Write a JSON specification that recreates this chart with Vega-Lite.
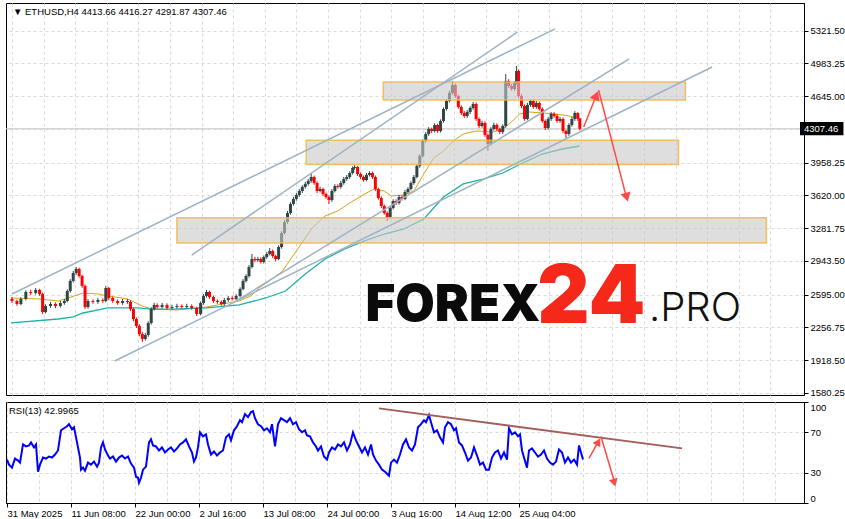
{
"$schema": "https://vega.github.io/schema/vega-lite/v6.json",
"padding": {"left": 2, "top": 2, "right": 0, "bottom": 0},
"background": "white",
"spacing": 3,
"config": {
  "view": {"stroke": "#000", "strokeWidth": 1},
  "axis": {"labelFont": "Liberation Sans", "labelFontSize": 9.5, "labelColor": "#000", "gridColor": "#dadada", "gridDash": [3, 3], "gridWidth": 1, "tickColor": "#000", "domainColor": "#000", "title": null, "labelOverlap": false, "labelBound": false},
  "text": {"font": "Liberation Sans"}
},
"datasets": {
  "one": [{"n": 1}],
  "candles": [
    {"i":3,"o":2550,"h":2572,"l":2508,"c":2529},{"i":8,"o":2529,"h":2545,"l":2480,"c":2498},{"i":12,"o":2498,"h":2568,"l":2485,"c":2550},{"i":17,"o":2550,"h":2640,"l":2535,"c":2622},{"i":22,"o":2622,"h":2645,"l":2590,"c":2612},{"i":27,"o":2612,"h":2663,"l":2595,"c":2643},{"i":31,"o":2643,"h":2655,"l":2580,"c":2601},{"i":34,"o":2601,"h":2615,"l":2395,"c":2415},{"i":37,"o":2415,"h":2495,"l":2400,"c":2477},{"i":42,"o":2477,"h":2520,"l":2460,"c":2498},{"i":47,"o":2498,"h":2515,"l":2455,"c":2477},{"i":52,"o":2477,"h":2530,"l":2460,"c":2508},{"i":56,"o":2508,"h":2550,"l":2490,"c":2529},{"i":59,"o":2529,"h":2650,"l":2515,"c":2632},{"i":62,"o":2632,"h":2755,"l":2615,"c":2736},{"i":65,"o":2736,"h":2840,"l":2720,"c":2818},{"i":68,"o":2818,"h":2880,"l":2800,"c":2860},{"i":71,"o":2860,"h":2875,"l":2770,"c":2787},{"i":74,"o":2787,"h":2800,"l":2665,"c":2684},{"i":77,"o":2684,"h":2700,"l":2446,"c":2467},{"i":80,"o":2467,"h":2550,"l":2450,"c":2529},{"i":85,"o":2529,"h":2545,"l":2500,"c":2519},{"i":90,"o":2519,"h":2560,"l":2500,"c":2539},{"i":95,"o":2539,"h":2555,"l":2510,"c":2529},{"i":98,"o":2529,"h":2684,"l":2515,"c":2663},{"i":101,"o":2663,"h":2675,"l":2540,"c":2560},{"i":105,"o":2560,"h":2575,"l":2510,"c":2529},{"i":110,"o":2529,"h":2545,"l":2490,"c":2508},{"i":115,"o":2508,"h":2550,"l":2490,"c":2529},{"i":120,"o":2529,"h":2550,"l":2500,"c":2519},{"i":123,"o":2519,"h":2535,"l":2425,"c":2446},{"i":126,"o":2446,"h":2460,"l":2320,"c":2343},{"i":129,"o":2343,"h":2360,"l":2250,"c":2271},{"i":132,"o":2271,"h":2290,"l":2165,"c":2188},{"i":135,"o":2188,"h":2210,"l":2106,"c":2137},{"i":138,"o":2137,"h":2200,"l":2120,"c":2178},{"i":141,"o":2178,"h":2320,"l":2160,"c":2302},{"i":144,"o":2302,"h":2465,"l":2285,"c":2446},{"i":147,"o":2446,"h":2510,"l":2430,"c":2488},{"i":150,"o":2488,"h":2505,"l":2450,"c":2467},{"i":155,"o":2467,"h":2510,"l":2450,"c":2488},{"i":160,"o":2488,"h":2505,"l":2440,"c":2457},{"i":165,"o":2457,"h":2490,"l":2440,"c":2467},{"i":170,"o":2467,"h":2500,"l":2450,"c":2477},{"i":175,"o":2477,"h":2495,"l":2450,"c":2467},{"i":180,"o":2467,"h":2500,"l":2450,"c":2477},{"i":185,"o":2477,"h":2495,"l":2440,"c":2457},{"i":190,"o":2457,"h":2470,"l":2374,"c":2395},{"i":194,"o":2395,"h":2525,"l":2380,"c":2508},{"i":197,"o":2508,"h":2600,"l":2490,"c":2581},{"i":200,"o":2581,"h":2643,"l":2565,"c":2622},{"i":203,"o":2622,"h":2635,"l":2550,"c":2570},{"i":207,"o":2570,"h":2585,"l":2510,"c":2529},{"i":211,"o":2529,"h":2545,"l":2500,"c":2519},{"i":215,"o":2519,"h":2535,"l":2480,"c":2498},{"i":218,"o":2498,"h":2560,"l":2480,"c":2539},{"i":222,"o":2539,"h":2580,"l":2520,"c":2560},{"i":226,"o":2560,"h":2580,"l":2535,"c":2550},{"i":230,"o":2550,"h":2600,"l":2535,"c":2581},{"i":234,"o":2581,"h":2670,"l":2565,"c":2653},{"i":237,"o":2653,"h":2755,"l":2640,"c":2736},{"i":240,"o":2736,"h":2805,"l":2720,"c":2787},{"i":243,"o":2787,"h":2900,"l":2770,"c":2880},{"i":246,"o":2880,"h":3015,"l":2865,"c":2963},{"i":249,"o":2963,"h":2985,"l":2930,"c":2950},{"i":252,"o":2950,"h":2985,"l":2935,"c":2963},{"i":255,"o":2963,"h":2980,"l":2915,"c":2932},{"i":258,"o":2932,"h":3000,"l":2915,"c":2984},{"i":261,"o":2984,"h":3035,"l":2965,"c":3015},{"i":264,"o":3015,"h":3076,"l":3000,"c":3046},{"i":267,"o":3046,"h":3060,"l":2975,"c":2994},{"i":270,"o":2994,"h":3005,"l":2940,"c":2963},{"i":273,"o":2963,"h":3105,"l":2950,"c":3087},{"i":276,"o":3087,"h":3250,"l":3070,"c":3231},{"i":279,"o":3231,"h":3365,"l":3215,"c":3345},{"i":282,"o":3345,"h":3460,"l":3325,"c":3438},{"i":285,"o":3438,"h":3550,"l":3420,"c":3531},{"i":288,"o":3531,"h":3605,"l":3515,"c":3583},{"i":291,"o":3583,"h":3645,"l":3565,"c":3624},{"i":294,"o":3624,"h":3685,"l":3605,"c":3665},{"i":297,"o":3665,"h":3725,"l":3645,"c":3707},{"i":300,"o":3707,"h":3760,"l":3690,"c":3738},{"i":303,"o":3738,"h":3790,"l":3720,"c":3769},{"i":306,"o":3769,"h":3841,"l":3750,"c":3810},{"i":309,"o":3810,"h":3825,"l":3730,"c":3748},{"i":312,"o":3748,"h":3765,"l":3645,"c":3665},{"i":315,"o":3665,"h":3710,"l":3650,"c":3686},{"i":318,"o":3686,"h":3700,"l":3615,"c":3634},{"i":321,"o":3634,"h":3650,"l":3585,"c":3603},{"i":324,"o":3603,"h":3620,"l":3531,"c":3572},{"i":327,"o":3572,"h":3685,"l":3555,"c":3665},{"i":330,"o":3665,"h":3735,"l":3650,"c":3717},{"i":333,"o":3717,"h":3735,"l":3690,"c":3707},{"i":336,"o":3707,"h":3770,"l":3690,"c":3748},{"i":339,"o":3748,"h":3810,"l":3730,"c":3789},{"i":342,"o":3789,"h":3830,"l":3770,"c":3810},{"i":345,"o":3810,"h":3870,"l":3790,"c":3851},{"i":348,"o":3851,"h":3920,"l":3835,"c":3903},{"i":350,"o":3903,"h":3934,"l":3885,"c":3913},{"i":353,"o":3913,"h":3925,"l":3820,"c":3841},{"i":356,"o":3841,"h":3855,"l":3790,"c":3810},{"i":359,"o":3810,"h":3825,"l":3760,"c":3779},{"i":362,"o":3779,"h":3850,"l":3765,"c":3831},{"i":365,"o":3831,"h":3870,"l":3815,"c":3851},{"i":368,"o":3851,"h":3865,"l":3790,"c":3810},{"i":371,"o":3810,"h":3825,"l":3665,"c":3686},{"i":374,"o":3686,"h":3700,"l":3575,"c":3593},{"i":377,"o":3593,"h":3610,"l":3490,"c":3510},{"i":380,"o":3510,"h":3525,"l":3420,"c":3438},{"i":383,"o":3438,"h":3455,"l":3355,"c":3397},{"i":386,"o":3397,"h":3510,"l":3380,"c":3490},{"i":389,"o":3490,"h":3580,"l":3475,"c":3562},{"i":392,"o":3562,"h":3580,"l":3520,"c":3541},{"i":395,"o":3541,"h":3625,"l":3525,"c":3603},{"i":398,"o":3603,"h":3620,"l":3565,"c":3583},{"i":401,"o":3583,"h":3675,"l":3570,"c":3655},{"i":404,"o":3655,"h":3705,"l":3640,"c":3686},{"i":407,"o":3686,"h":3765,"l":3670,"c":3748},{"i":410,"o":3748,"h":3830,"l":3730,"c":3810},{"i":413,"o":3810,"h":3945,"l":3795,"c":3924},{"i":416,"o":3924,"h":4045,"l":3905,"c":4027},{"i":419,"o":4027,"h":4200,"l":4010,"c":4182},{"i":422,"o":4182,"h":4275,"l":4165,"c":4254},{"i":425,"o":4254,"h":4325,"l":4235,"c":4306},{"i":428,"o":4306,"h":4320,"l":4265,"c":4285},{"i":431,"o":4285,"h":4365,"l":4270,"c":4347},{"i":434,"o":4347,"h":4360,"l":4265,"c":4285},{"i":437,"o":4285,"h":4405,"l":4270,"c":4388},{"i":440,"o":4388,"h":4530,"l":4370,"c":4512},{"i":443,"o":4512,"h":4615,"l":4495,"c":4595},{"i":446,"o":4595,"h":4700,"l":4580,"c":4678},{"i":449,"o":4678,"h":4802,"l":4660,"c":4760},{"i":452,"o":4760,"h":4775,"l":4625,"c":4647},{"i":455,"o":4647,"h":4660,"l":4515,"c":4533},{"i":458,"o":4533,"h":4550,"l":4450,"c":4471},{"i":461,"o":4471,"h":4490,"l":4420,"c":4440},{"i":464,"o":4440,"h":4500,"l":4420,"c":4481},{"i":467,"o":4481,"h":4540,"l":4460,"c":4523},{"i":470,"o":4523,"h":4585,"l":4505,"c":4564},{"i":473,"o":4564,"h":4580,"l":4390,"c":4409},{"i":476,"o":4409,"h":4425,"l":4315,"c":4337},{"i":479,"o":4337,"h":4390,"l":4320,"c":4368},{"i":482,"o":4368,"h":4385,"l":4225,"c":4244},{"i":485,"o":4244,"h":4260,"l":4078,"c":4151},{"i":488,"o":4151,"h":4325,"l":4135,"c":4306},{"i":491,"o":4306,"h":4370,"l":4290,"c":4347},{"i":494,"o":4347,"h":4365,"l":4285,"c":4306},{"i":497,"o":4306,"h":4320,"l":4255,"c":4275},{"i":500,"o":4275,"h":4355,"l":4255,"c":4337},{"i":503,"o":4337,"h":4874,"l":4320,"c":4802},{"i":506,"o":4802,"h":4820,"l":4730,"c":4750},{"i":509,"o":4750,"h":4770,"l":4700,"c":4719},{"i":512,"o":4719,"h":4800,"l":4700,"c":4781},{"i":514,"o":4781,"h":4957,"l":4765,"c":4905},{"i":516,"o":4905,"h":4920,"l":4625,"c":4647},{"i":519,"o":4647,"h":4665,"l":4520,"c":4543},{"i":522,"o":4543,"h":4560,"l":4390,"c":4409},{"i":525,"o":4409,"h":4575,"l":4395,"c":4554},{"i":528,"o":4554,"h":4615,"l":4535,"c":4595},{"i":531,"o":4595,"h":4610,"l":4515,"c":4533},{"i":534,"o":4533,"h":4595,"l":4515,"c":4574},{"i":537,"o":4574,"h":4590,"l":4495,"c":4512},{"i":540,"o":4512,"h":4530,"l":4370,"c":4388},{"i":543,"o":4388,"h":4405,"l":4295,"c":4316},{"i":546,"o":4316,"h":4430,"l":4300,"c":4409},{"i":549,"o":4409,"h":4480,"l":4390,"c":4461},{"i":552,"o":4461,"h":4480,"l":4420,"c":4440},{"i":555,"o":4440,"h":4460,"l":4370,"c":4388},{"i":558,"o":4388,"h":4430,"l":4370,"c":4409},{"i":561,"o":4409,"h":4425,"l":4265,"c":4285},{"i":564,"o":4285,"h":4300,"l":4213,"c":4254},{"i":567,"o":4254,"h":4365,"l":4235,"c":4347},{"i":570,"o":4347,"h":4430,"l":4330,"c":4409},{"i":573,"o":4409,"h":4490,"l":4390,"c":4471},{"i":576,"o":4471,"h":4480,"l":4390,"c":4413},{"i":578,"o":4413.66,"h":4416.27,"l":4291.87,"c":4307.46}
  ],
  "ma50": [
    {"i":2,"p":2560},{"i":30,"p":2550},{"i":50,"p":2529},{"i":60,"p":2560},{"i":75,"p":2612},{"i":90,"p":2601},{"i":100,"p":2581},{"i":120,"p":2550},{"i":135,"p":2477},{"i":145,"p":2446},{"i":170,"p":2436},{"i":200,"p":2467},{"i":233,"p":2529},{"i":245,"p":2581},{"i":253,"p":2663},{"i":265,"p":2746},{"i":277,"p":2839},{"i":293,"p":3076},{"i":307,"p":3283},{"i":320,"p":3407},{"i":333,"p":3459},{"i":345,"p":3541},{"i":360,"p":3634},{"i":370,"p":3686},{"i":380,"p":3665},{"i":387,"p":3614},{"i":400,"p":3624},{"i":410,"p":3665},{"i":420,"p":3841},{"i":430,"p":4006},{"i":440,"p":4078},{"i":450,"p":4182},{"i":460,"p":4254},{"i":473,"p":4285},{"i":490,"p":4275},{"i":500,"p":4306},{"i":510,"p":4388},{"i":517,"p":4461},{"i":527,"p":4481},{"i":540,"p":4471},{"i":553,"p":4461},{"i":567,"p":4440},{"i":579,"p":4409}
  ],
  "ma200": [
    {"i":2,"p":2302},{"i":50,"p":2343},{"i":65,"p":2364},{"i":75,"p":2405},{"i":100,"p":2457},{"i":130,"p":2457},{"i":145,"p":2446},{"i":167,"p":2446},{"i":200,"p":2457},{"i":233,"p":2488},{"i":260,"p":2560},{"i":280,"p":2632},{"i":300,"p":2808},{"i":320,"p":2963},{"i":340,"p":3066},{"i":360,"p":3149},{"i":380,"p":3221},{"i":400,"p":3273},{"i":420,"p":3376},{"i":440,"p":3603},{"i":460,"p":3738},{"i":480,"p":3789},{"i":500,"p":3851},{"i":520,"p":3954},{"i":540,"p":4047},{"i":560,"p":4099},{"i":578,"p":4130}
  ],
  "chan": [
    {"k":"a","i":3,"p":2601},{"k":"a","i":553,"p":5339},
    {"k":"b","i":185,"p":3004},{"k":"b","i":515,"p":5308},
    {"k":"c","i":107,"p":1909},{"k":"c","i":712,"p":4946},
    {"k":"d","i":230,"p":2529},{"k":"d","i":628,"p":5030}
  ],
  "boxes": [
    {"i1":379,"i2":685,"p1":4791,"p2":4605},
    {"i1":301,"i2":678,"p1":4189,"p2":3938},
    {"i1":170,"i2":767,"p1":3389,"p2":3128}
  ],
  "arrows": [
    {"k":"a","i":582,"p":4326},{"k":"a","i":595,"p":4660},
    {"k":"b","i":597,"p":4709},{"k":"b","i":625,"p":3610}
  ],
  "rsi": [
    {"i":3,"v":43},{"i":5,"v":38},{"i":8,"v":35},{"i":11,"v":44},{"i":14,"v":42},{"i":16,"v":40},{"i":19,"v":58},{"i":22,"v":56},{"i":25,"v":57},{"i":27,"v":60},{"i":30,"v":55},{"i":32,"v":58},{"i":34,"v":31},{"i":36,"v":38},{"i":39,"v":45},{"i":42,"v":44},{"i":45,"v":46},{"i":48,"v":45},{"i":51,"v":48},{"i":54,"v":52},{"i":57,"v":72},{"i":60,"v":74},{"i":63,"v":76},{"i":65,"v":78},{"i":68,"v":73},{"i":70,"v":75},{"i":73,"v":60},{"i":76,"v":45},{"i":77,"v":33},{"i":79,"v":35},{"i":81,"v":32},{"i":84,"v":40},{"i":87,"v":38},{"i":90,"v":41},{"i":93,"v":36},{"i":95,"v":40},{"i":97,"v":55},{"i":99,"v":60},{"i":101,"v":53},{"i":104,"v":47},{"i":106,"v":44},{"i":109,"v":46},{"i":112,"v":41},{"i":115,"v":45},{"i":118,"v":47},{"i":121,"v":44},{"i":124,"v":46},{"i":127,"v":39},{"i":130,"v":35},{"i":132,"v":26},{"i":134,"v":25},{"i":135,"v":20},{"i":137,"v":25},{"i":139,"v":33},{"i":142,"v":36},{"i":145,"v":60},{"i":147,"v":63},{"i":149,"v":57},{"i":152,"v":56},{"i":155,"v":52},{"i":158,"v":55},{"i":161,"v":50},{"i":164,"v":53},{"i":167,"v":55},{"i":170,"v":51},{"i":173,"v":54},{"i":176,"v":58},{"i":179,"v":60},{"i":182,"v":63},{"i":185,"v":56},{"i":188,"v":50},{"i":190,"v":41},{"i":192,"v":45},{"i":194,"v":55},{"i":196,"v":70},{"i":199,"v":66},{"i":202,"v":68},{"i":204,"v":58},{"i":207,"v":48},{"i":210,"v":51},{"i":213,"v":47},{"i":216,"v":50},{"i":219,"v":52},{"i":222,"v":65},{"i":225,"v":68},{"i":227,"v":62},{"i":230,"v":72},{"i":233,"v":76},{"i":236,"v":82},{"i":238,"v":80},{"i":241,"v":88},{"i":244,"v":85},{"i":247,"v":90},{"i":249,"v":91},{"i":251,"v":84},{"i":254,"v":78},{"i":257,"v":76},{"i":260,"v":72},{"i":263,"v":74},{"i":266,"v":70},{"i":268,"v":78},{"i":271,"v":56},{"i":274,"v":78},{"i":277,"v":84},{"i":280,"v":82},{"i":283,"v":80},{"i":286,"v":84},{"i":289,"v":78},{"i":292,"v":80},{"i":295,"v":73},{"i":298,"v":70},{"i":301,"v":72},{"i":303,"v":67},{"i":306,"v":66},{"i":309,"v":60},{"i":312,"v":56},{"i":314,"v":52},{"i":317,"v":56},{"i":320,"v":46},{"i":323,"v":43},{"i":325,"v":50},{"i":328,"v":55},{"i":331,"v":53},{"i":334,"v":58},{"i":337,"v":56},{"i":340,"v":60},{"i":343,"v":52},{"i":346,"v":58},{"i":349,"v":70},{"i":352,"v":62},{"i":355,"v":56},{"i":358,"v":50},{"i":361,"v":55},{"i":364,"v":48},{"i":367,"v":58},{"i":369,"v":48},{"i":372,"v":42},{"i":375,"v":38},{"i":378,"v":33},{"i":381,"v":31},{"i":383,"v":29},{"i":385,"v":27},{"i":387,"v":40},{"i":390,"v":43},{"i":393,"v":40},{"i":396,"v":48},{"i":399,"v":58},{"i":402,"v":63},{"i":405,"v":55},{"i":408,"v":52},{"i":411,"v":58},{"i":414,"v":75},{"i":417,"v":78},{"i":420,"v":82},{"i":422,"v":80},{"i":425,"v":87},{"i":427,"v":80},{"i":430,"v":70},{"i":433,"v":72},{"i":436,"v":65},{"i":439,"v":60},{"i":441,"v":75},{"i":444,"v":80},{"i":447,"v":78},{"i":450,"v":72},{"i":452,"v":74},{"i":455,"v":60},{"i":458,"v":57},{"i":461,"v":50},{"i":464,"v":42},{"i":467,"v":45},{"i":470,"v":55},{"i":473,"v":47},{"i":476,"v":38},{"i":479,"v":40},{"i":482,"v":33},{"i":485,"v":33},{"i":488,"v":45},{"i":491,"v":50},{"i":494,"v":52},{"i":497,"v":44},{"i":500,"v":50},{"i":503,"v":43},{"i":505,"v":74},{"i":508,"v":68},{"i":511,"v":70},{"i":514,"v":66},{"i":516,"v":68},{"i":518,"v":52},{"i":520,"v":45},{"i":523,"v":35},{"i":525,"v":52},{"i":528,"v":54},{"i":531,"v":50},{"i":534,"v":46},{"i":537,"v":48},{"i":540,"v":52},{"i":543,"v":44},{"i":546,"v":40},{"i":549,"v":38},{"i":552,"v":41},{"i":555,"v":53},{"i":558,"v":50},{"i":561,"v":40},{"i":564,"v":45},{"i":567,"v":40},{"i":570,"v":43},{"i":573,"v":38},{"i":575,"v":57},{"i":577,"v":50},{"i":579,"v":43}
  ],
  "rsitrend": [{"i":375,"v":93.6},{"i":678,"v":54.0}],
  "rsiarrows": [
    {"k":"a","i":585,"v":44.1},{"k":"a","i":595,"v":62},
    {"k":"b","i":597,"v":65.8},{"k":"b","i":611,"v":19}
  ]
},
"vconcat": [
  {
    "width": 798,
    "height": 392,
    "layer": [
      {
        "data": {"name": "ma50"},
        "mark": {"type": "line", "color": "#d9a21b", "strokeWidth": 1},
        "encoding": {
          "x": {"field": "i", "type": "quantitative", "scale": {"domain": [2, 800], "nice": false, "zero": false},
                "axis": {"values": [3,35,67,99,131,163,195,227,259,291,323,355,387,419,451,483,515,547,579,611,643,675,707,739,771], "tickCount": 60, "grid": true, "labels": false, "ticks": false, "domain": false, "title": null}},
          "y": {"field": "p", "type": "quantitative", "scale": {"domain": [1558, 5607], "nice": false, "zero": false},
                "axis": {"orient": "right", "values": [1580.25,1918.5,2256.75,2595,2943.5,3281.75,3620,3958.25,4307.46,4645,4983.25,5321.5], "tickCount": 40, "labelExpr": "datum.value == 4307.46 ? '' : format(datum.value, '.2f')", "tickSize": 4, "labelPadding": 2, "grid": true, "labelFlush": false, "labelOverlap": false, "labelBound": false, "title": null}}
        }
      },
      {
        "data": {"name": "ma200"},
        "mark": {"type": "line", "color": "#1fb0a6", "strokeWidth": 1.3},
        "encoding": {
          "x": {"field": "i", "type": "quantitative", "scale": {"domain": [2, 800], "nice": false, "zero": false}},
          "y": {"field": "p", "type": "quantitative", "scale": {"domain": [1558, 5607], "nice": false, "zero": false}}
        }
      },
      {
        "data": {"name": "one"},
        "mark": {"type": "rule", "color": "#c4c4c4", "strokeWidth": 1},
        "encoding": {
          "y": {"datum": 4307.46, "type": "quantitative", "scale": {"domain": [1558, 5607], "nice": false, "zero": false}}
        }
      },
      {
        "data": {"name": "one"},
        "mark": {"type": "text", "text": "FOREX", "font": "Inter", "fontWeight": 900, "fontSize": 51, "color": "#0a0a0a", "align": "left", "baseline": "alphabetic"},
        "encoding": {
          "x": {"datum": 361, "type": "quantitative", "scale": {"domain": [2, 800], "nice": false, "zero": false}},
          "y": {"datum": 2322, "type": "quantitative", "scale": {"domain": [1558, 5607], "nice": false, "zero": false}}
        }
      },
      {
        "data": {"name": "one"},
        "mark": {"type": "text", "text": "24", "font": "Inter", "fontWeight": 900, "fontSize": 81, "color": "#f5281a", "align": "left", "baseline": "alphabetic"},
        "encoding": {
          "x": {"datum": 535, "type": "quantitative", "scale": {"domain": [2, 800], "nice": false, "zero": false}},
          "y": {"datum": 2301, "type": "quantitative", "scale": {"domain": [1558, 5607], "nice": false, "zero": false}}
        }
      },
      {
        "data": {"name": "one"},
        "mark": {"type": "text", "text": ".PRO", "font": "Inter", "fontWeight": 300, "fontSize": 40, "color": "#111111", "align": "left", "baseline": "alphabetic"},
        "encoding": {
          "x": {"datum": 648, "type": "quantitative", "scale": {"domain": [2, 800], "nice": false, "zero": false}},
          "y": {"datum": 2322, "type": "quantitative", "scale": {"domain": [1558, 5607], "nice": false, "zero": false}}
        }
      },
      {
        "data": {"name": "candles"},
        "mark": {"type": "rule", "strokeWidth": 1},
        "encoding": {
          "x": {"field": "i", "type": "quantitative", "scale": {"domain": [2, 800], "nice": false, "zero": false}},
          "y": {"field": "l", "type": "quantitative", "scale": {"domain": [1558, 5607], "nice": false, "zero": false}},
          "y2": {"field": "h"},
          "color": {"condition": {"test": "datum.c >= datum.o", "value": "#2f4646"}, "value": "#ff0000"}
        }
      },
      {
        "data": {"name": "candles"},
        "mark": {"type": "bar", "size": 3},
        "encoding": {
          "x": {"field": "i", "type": "quantitative", "scale": {"domain": [2, 800], "nice": false, "zero": false}},
          "y": {"field": "o", "type": "quantitative", "scale": {"domain": [1558, 5607], "nice": false, "zero": false}},
          "y2": {"field": "c"},
          "color": {"condition": {"test": "datum.c >= datum.o", "value": "#2f4646"}, "value": "#ff0000"}
        }
      },
      {
        "data": {"name": "boxes"},
        "mark": {"type": "rect", "fill": "#c8c8c8", "fillOpacity": 0.6, "stroke": "#f2b54a", "strokeOpacity": 0.85, "strokeWidth": 1.5},
        "encoding": {
          "x": {"field": "i1", "type": "quantitative", "scale": {"domain": [2, 800], "nice": false, "zero": false}},
          "x2": {"field": "i2"},
          "y": {"field": "p1", "type": "quantitative", "scale": {"domain": [1558, 5607], "nice": false, "zero": false}},
          "y2": {"field": "p2"}
        }
      },
      {
        "data": {"name": "chan"},
        "mark": {"type": "line", "color": "#9fb3c3", "strokeWidth": 1.5},
        "encoding": {
          "x": {"field": "i", "type": "quantitative", "scale": {"domain": [2, 800], "nice": false, "zero": false}},
          "y": {"field": "p", "type": "quantitative", "scale": {"domain": [1558, 5607], "nice": false, "zero": false}},
          "detail": {"field": "k"}
        }
      },
      {
        "data": {"name": "arrows"},
        "mark": {"type": "line", "color": "#ff4a4a", "strokeWidth": 1.5},
        "encoding": {
          "x": {"field": "i", "type": "quantitative", "scale": {"domain": [2, 800], "nice": false, "zero": false}},
          "y": {"field": "p", "type": "quantitative", "scale": {"domain": [1558, 5607], "nice": false, "zero": false}},
          "detail": {"field": "k"}
        }
      },
      {
        "data": {"name": "one"},
        "mark": {"type": "point", "shape": "triangle-up", "filled": true, "color": "#ff4a4a", "opacity": 1, "size": 110, "angle": 22},
        "encoding": {
          "x": {"datum": 594.7, "type": "quantitative", "scale": {"domain": [2, 800], "nice": false, "zero": false}},
          "y": {"datum": 4651, "type": "quantitative", "scale": {"domain": [1558, 5607], "nice": false, "zero": false}}
        }
      },
      {
        "data": {"name": "one"},
        "mark": {"type": "point", "shape": "triangle-up", "filled": true, "color": "#ff4a4a", "opacity": 1, "size": 110, "angle": 165},
        "encoding": {
          "x": {"datum": 625.5, "type": "quantitative", "scale": {"domain": [2, 800], "nice": false, "zero": false}},
          "y": {"datum": 3601, "type": "quantitative", "scale": {"domain": [1558, 5607], "nice": false, "zero": false}}
        }
      },
      {
        "data": {"name": "one"},
        "mark": {"type": "text", "text": "▼ ETHUSD,H4  4413.66 4416.27 4291.87 4307.46", "fontSize": 9.5, "color": "#000", "align": "left", "baseline": "middle"},
        "encoding": {
          "x": {"datum": 4, "type": "quantitative", "scale": {"domain": [2, 800], "nice": false, "zero": false}},
          "y": {"datum": 5513, "type": "quantitative", "scale": {"domain": [1558, 5607], "nice": false, "zero": false}}
        }
      },
      {
        "data": {"name": "one"},
        "mark": {"type": "rect", "color": "#000", "clip": false},
        "encoding": {
          "x": {"datum": 801, "type": "quantitative", "scale": {"domain": [2, 800], "nice": false, "zero": false}},
          "x2": {"datum": 845},
          "y": {"datum": 4377, "type": "quantitative", "scale": {"domain": [1558, 5607], "nice": false, "zero": false}},
          "y2": {"datum": 4242}
        }
      },
      {
        "data": {"name": "one"},
        "mark": {"type": "text", "text": "4307.46", "fontSize": 9.5, "color": "#fff", "align": "left", "baseline": "middle", "clip": false},
        "encoding": {
          "x": {"datum": 805, "type": "quantitative", "scale": {"domain": [2, 800], "nice": false, "zero": false}},
          "y": {"datum": 4307.46, "type": "quantitative", "scale": {"domain": [1558, 5607], "nice": false, "zero": false}}
        }
      }
    ]
  },
  {
    "width": 798,
    "height": 101,
    "layer": [
      {
        "data": {"name": "rsi"},
        "mark": {"type": "line", "color": "#0000ff", "strokeWidth": 2},
        "encoding": {
          "x": {"field": "i", "type": "quantitative", "scale": {"domain": [2, 800], "nice": false, "zero": false},
                "axis": {"values": [3,35,67,99,131,163,195,227,259,291,323,355,387,419,451,483,515,547,579,611,643,675,707,739,771], "tickCount": 60, "grid": true, "labelExpr": "((datum.value - 3) % 64 == 0 && datum.value <= 515) ? ['31 May 2025','11 Jun 08:00','22 Jun 00:00','2 Jul 16:00','13 Jul 08:00','24 Jul 00:00','3 Aug 16:00','14 Aug 12:00','25 Aug 04:00'][(datum.value - 3) / 64] : ''", "labelAlign": "left", "labelBaseline": "top", "labelPadding": 1, "tickSize": 4, "tickOpacity": {"condition": {"test": "(datum.value - 3) % 64 == 0 && datum.value <= 515", "value": 1}, "value": 0}, "labelFlush": false, "labelOverlap": false, "labelBound": false, "title": null}},
          "y": {"field": "v", "type": "quantitative", "scale": {"domain": [0, 100], "nice": false, "zero": false},
                "axis": {"orient": "right", "values": [0, 30, 70, 100], "tickCount": 20, "labelFlush": true, "labelOverlap": false, "labelBound": false, "tickSize": 4, "labelPadding": 2, "grid": true, "gridOpacity": {"condition": {"test": "datum.value == 30 || datum.value == 70", "value": 1}, "value": 0}, "title": null}}
        }
      },
      {
        "data": {"name": "rsitrend"},
        "mark": {"type": "line", "color": "#a35d5b", "strokeWidth": 1.8},
        "encoding": {
          "x": {"field": "i", "type": "quantitative", "scale": {"domain": [2, 800], "nice": false, "zero": false}},
          "y": {"field": "v", "type": "quantitative", "scale": {"domain": [0, 100], "nice": false, "zero": false}}
        }
      },
      {
        "data": {"name": "rsiarrows"},
        "mark": {"type": "line", "color": "#ff4a4a", "strokeWidth": 1.5},
        "encoding": {
          "x": {"field": "i", "type": "quantitative", "scale": {"domain": [2, 800], "nice": false, "zero": false}},
          "y": {"field": "v", "type": "quantitative", "scale": {"domain": [0, 100], "nice": false, "zero": false}},
          "detail": {"field": "k"}
        }
      },
      {
        "data": {"name": "one"},
        "mark": {"type": "point", "shape": "triangle-up", "filled": true, "color": "#ff4a4a", "opacity": 1, "size": 80, "angle": 29},
        "encoding": {
          "x": {"datum": 594.3, "type": "quantitative", "scale": {"domain": [2, 800], "nice": false, "zero": false}},
          "y": {"datum": 60.6, "type": "quantitative", "scale": {"domain": [0, 100], "nice": false, "zero": false}}
        }
      },
      {
        "data": {"name": "one"},
        "mark": {"type": "point", "shape": "triangle-up", "filled": true, "color": "#ff4a4a", "opacity": 1, "size": 80, "angle": 164},
        "encoding": {
          "x": {"datum": 610.3, "type": "quantitative", "scale": {"domain": [2, 800], "nice": false, "zero": false}},
          "y": {"datum": 20.1, "type": "quantitative", "scale": {"domain": [0, 100], "nice": false, "zero": false}}
        }
      },
      {
        "data": {"name": "one"},
        "mark": {"type": "text", "text": "RSI(13) 42.9965", "fontSize": 9.5, "color": "#000", "align": "left", "baseline": "middle"},
        "encoding": {
          "x": {"datum": 5, "type": "quantitative", "scale": {"domain": [2, 800], "nice": false, "zero": false}},
          "y": {"datum": 91.5, "type": "quantitative", "scale": {"domain": [0, 100], "nice": false, "zero": false}}
        }
      }
    ]
  }
]
}
